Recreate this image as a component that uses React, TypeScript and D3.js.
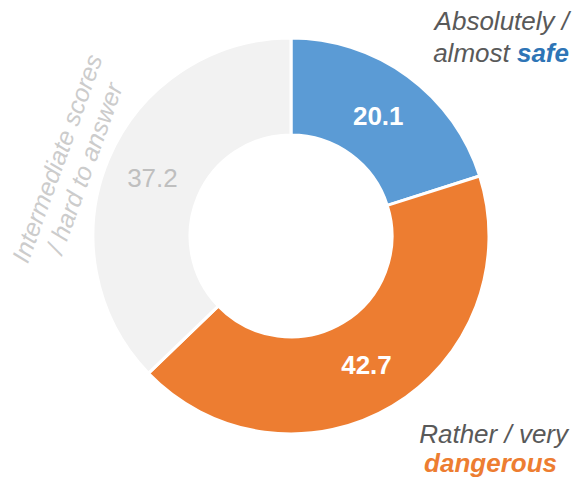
import React, { useEffect, useRef } from 'react';
import * as d3 from 'd3';

const categories = ['safe', 'dangerous', 'intermediate'];
const values = [20.1, 42.7, 37.2];
const colors = ['#5B9BD5', '#ED7D31', '#F2F2F2'];
const valueColors = ['#FFFFFF', '#FFFFFF', '#BFBFBF'];
const valueBold = [true, true, false];

const App: React.FC = () => {
  const svgRef = useRef<SVGSVGElement>(null);

  useEffect(() => {
    if (!svgRef.current) return;
    const svg = d3.select(svgRef.current);
    svg.selectAll('*').remove();

    const cx = 291;
    const cy = 236;
    const outerR = 198;
    const innerR = 101;
    const font = 'Liberation Sans, Arial, sans-serif';

    const pie = d3.pie<number>().sort(null).value(d => d);
    const arcs = pie(values);
    const arc = d3.arc<d3.PieArcDatum<number>>().innerRadius(innerR).outerRadius(outerR);

    const g = svg.append('g').attr('transform', `translate(${cx},${cy})`);

    g.selectAll('path')
      .data(arcs)
      .join('path')
      .attr('d', arc)
      .attr('fill', (_, i) => colors[i])
      .attr('stroke', '#fff')
      .attr('stroke-width', 3)
      .attr('data-cat', (_, i) => categories[i]);

    g.selectAll('text.val')
      .data(arcs)
      .join('text')
      .attr('class', 'val')
      .attr('x', d => arc.centroid(d)[0] - 1)
      .attr('y', d => arc.centroid(d)[1])
      .attr('dy', '0.36em')
      .attr('text-anchor', 'middle')
      .attr('font-family', font)
      .attr('font-size', 26)
      .attr('font-weight', (_, i) => (valueBold[i] ? 'bold' : 'normal'))
      .attr('fill', (_, i) => valueColors[i])
      .text(d => d.data.toFixed(1));

    // top right label
    const t1 = svg.append('text')
      .attr('font-family', font)
      .attr('font-size', 26)
      .attr('font-style', 'italic')
      .attr('text-anchor', 'end')
      .attr('fill', '#595959');
    t1.append('tspan').attr('x', 569).attr('y', 30).text('Absolutely /');
    const t1b = t1.append('tspan').attr('x', 569).attr('y', 62);
    t1b.append('tspan').text('almost ');
    t1b.append('tspan').attr('font-weight', 'bold').attr('fill', '#2E75B6').text('safe');

    // bottom right label
    const t2 = svg.append('text')
      .attr('font-family', font)
      .attr('font-size', 26)
      .attr('font-style', 'italic')
      .attr('text-anchor', 'end')
      .attr('fill', '#595959');
    t2.append('tspan').attr('x', 568).attr('y', 443).text('Rather / very');
    t2.append('tspan').attr('x', 557).attr('y', 472)
      .attr('font-weight', 'bold').attr('fill', '#ED7D31').text('dangerous');

    // rotated left label
    const t3 = svg.append('text')
      .attr('font-family', font)
      .attr('font-size', 25)
      .attr('font-style', 'italic')
      .attr('text-anchor', 'middle')
      .attr('fill', '#CCCCCC')
      .attr('transform', 'translate(70,163) rotate(-70)');
    t3.append('tspan').attr('x', 0).attr('y', -5).text('Intermediate scores');
    t3.append('tspan').attr('x', 0).attr('y', 24).text('/ hard to answer');
  }, []);

  return (
    <svg ref={svgRef} width={577} height={479} style={{ position: 'absolute', left: 0, top: 0 }} />
  );
};

export default App;
